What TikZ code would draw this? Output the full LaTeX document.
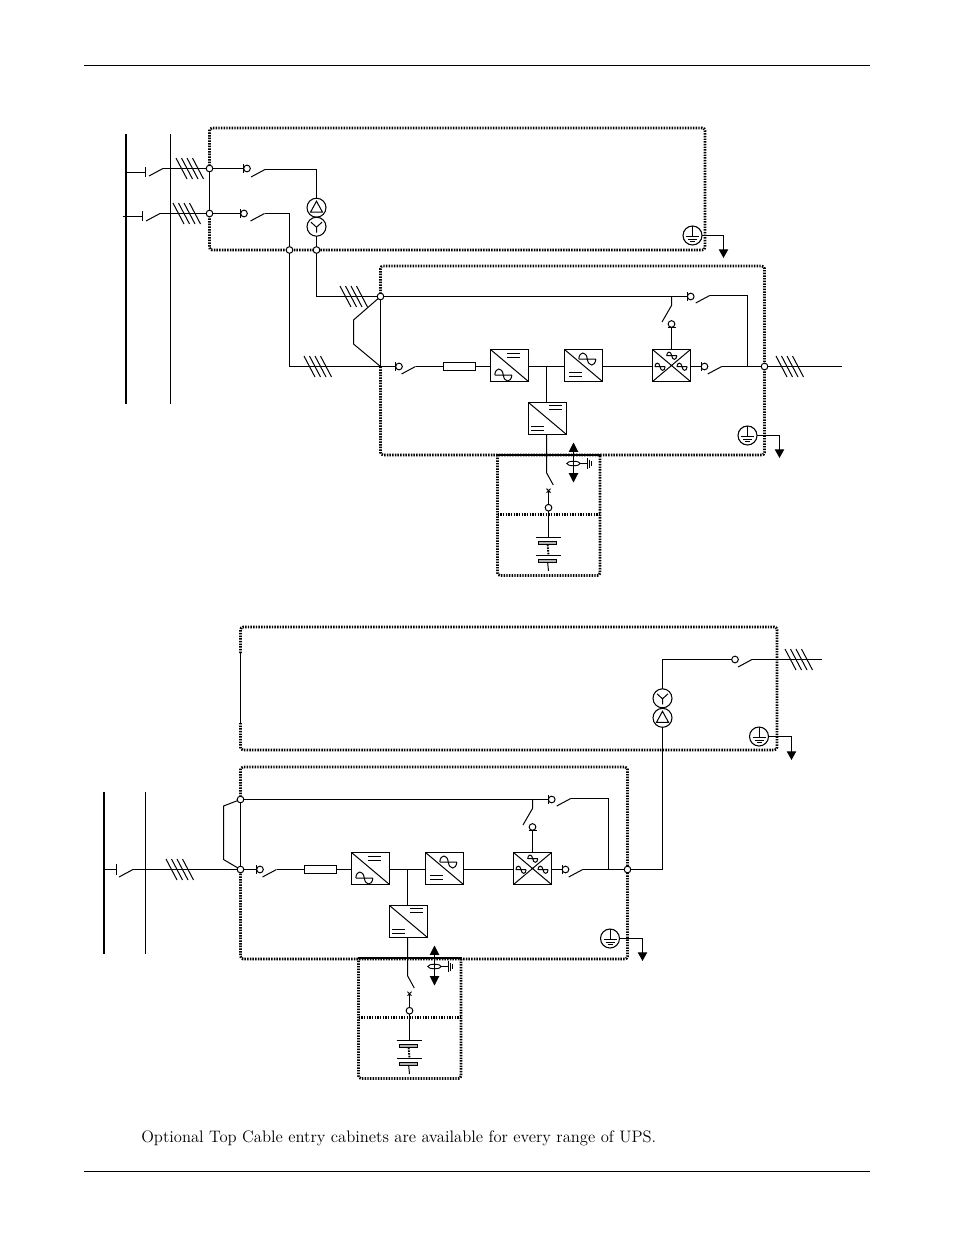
\documentclass[tikz,border=0pt]{standalone}
\usetikzlibrary{arrows.meta,shapes.geometric}
\tikzset{
  wire/.style={line width=0.75pt,line cap=butt},
  thinw/.style={line width=0.7pt},
  dotbox/.style={line width=2pt,dash pattern=on 1.1pt off 0.9pt,rounded corners=2pt},
  dashbox/.style={line width=1.6pt,dash pattern=on 1.1pt off 0.9pt},
  junc/.style={circle,draw,fill=white,line width=0.75pt,minimum size=5pt,inner sep=0pt,outer sep=0pt},
  conv/.style={rectangle,draw,line width=0.9pt,minimum width=28.5pt,minimum height=24pt,inner sep=0pt,outer sep=0pt},
  fuse/.style={rectangle,draw,line width=0.75pt,minimum width=24pt,minimum height=6pt,inner sep=0pt,outer sep=0pt},
  ring/.style={circle,draw,line width=0.8pt,minimum size=14.25pt,inner sep=0pt,outer sep=0pt},
  plate/.style={rectangle,draw,fill=gray!60,line width=0.6pt,minimum width=14pt,minimum height=2.6pt,inner sep=0pt,outer sep=0pt},
  earthtip/.style={wire,-{Triangle[width=7pt,length=6.5pt]}},
  ctip/.style={wire,{Triangle[width=7pt,length=7pt]}-{Triangle[width=7pt,length=7pt]}},
  ctring/.style={ellipse,draw,line width=0.7pt,minimum width=10pt,minimum height=3.4pt,inner sep=0pt,outer sep=0pt}
}
\newcommand\hatchmark[2]{\foreach \i in {0,1,2,3} \draw[wire] ({#1+\i*5.5},{#2-10.5}) -- ++(11,21);}
\newcommand\termin[3]{\node[junc] (#1) at (#2,#3) {}; \draw[wire] ({#2-3.5},{#3-4.5}) -- ++(0,9);}
\newcommand\bladesw[3]{\coordinate (#1-a) at (#2,{#3+7.5}); \coordinate (#1-b) at ({#2+14},#3); \draw[wire] (#1-a) -- (#1-b);}
\newcommand\dcsym[2]{\draw[wire] ({#1-6.5},{#2-2}) -- ++(13,0) ({#1-6.5},{#2+2}) -- ++(13,0);}
\newcommand\acsym[3]{\begin{scope}[shift={(#1,#2)},scale=#3]
  \draw[wire] (-8.5,0) -- (8.5,0) (-8.5,0) .. controls (-8,-8) and (-1,-8) .. (0,0) .. controls (1,8) and (8,8) .. (8.5,0);
\end{scope}}
\newcommand\earthsym[3]{\node[ring] (#1) at (#2,#3) {};
  \draw[wire] (#2,{#3-9.5}) -- (#2,{#3+1}) ({#2-6.5},{#3+1}) -- ++(13,0) ({#2-4.5},{#3+3.5}) -- ++(9,0) ({#2-2.5},{#3+6}) -- ++(5,0);}
\newcommand\deltasym[3]{\node[ring] (#1) at (#2,#3) {};
  \draw[wire] (#2,{#3-6.5}) -- ({#2+6},{#3+4.5}) -- ({#2-6},{#3+4.5}) -- cycle;}
\newcommand\wyesym[3]{\node[ring] (#1) at (#2,#3) {};
  \draw[wire] (#2,{#3+6}) -- (#2,{#3+0.5}) -- ({#2-5.5},{#3-4.5}) (#2,{#3+0.5}) -- ({#2+5.5},{#3-4.5});}
\newcommand\upscore{%
  % battery cabinet
  \draw[dotbox] (497.5,455) -- (497.5,575.5) -- (600,575.5) -- (600,455);
  \draw[dashbox] (497.5,514.5) -- (600,514.5);
  \draw[line width=2.2pt] (497,455) -- (600.5,455);
  % power path
  \termin{t1}{399}{366.5}
  \bladesw{s1}{401.5}{366.5}
  \node[fuse] (fs) at (459.5,366.5) {};
  \node[conv] (rect) at (509.5,365.5) {};
  \node[conv] (inv) at (583.5,365.5) {};
  \node[conv] (stat) at (671.5,365.5) {};
  \node[conv] (chg) at (547.5,418.5) {};
  \coordinate (bus) at (546.5,366.5);
  \draw[wire] (s1-b) -- (fs);
  \draw[wire] (fs.east) -- (fs.east -| rect.west);
  \draw[wire] (rect.east |- bus) -- (inv.west |- bus);
  \draw[wire] (inv.east |- bus) -- (stat.west |- bus);
  \draw[wire] (bus) -- (bus |- chg.north);
  % converter glyphs
  \draw[wire] (rect.north west) -- (rect.south east);
  \dcsym{513.7}{355.5}
  \acsym{503.3}{375}{1}
  \draw[wire] (inv.north west) -- (inv.south east);
  \acsym{587.3}{359}{1}
  \dcsym{575.7}{374.7}
  \draw[wire] (chg.north west) -- (chg.south east);
  \dcsym{555.7}{407.5}
  \dcsym{537.7}{428}
  \draw[wire] (stat.north west) -- (stat.south east) (stat.north east) -- (stat.south west);
  \acsym{671.7}{355.7}{0.6}
  \acsym{660}{366.7}{0.6}
  \acsym{682}{366.7}{0.6}
  % output switch
  \termin{t2}{704.5}{366.5}
  \bladesw{s2}{707.7}{366.5}
  \draw[wire] (stat.east |- bus) -- (t2);
  % static bypass
  \node[junc] (t3) at (671.5,324) {};
  \draw[wire] (667.5,327.5) -- (675.5,327.5);
  \draw[wire] (stat.north) -- (t3);
  \coordinate (s4t) at (671.5,296.5);
  \coordinate (s4k) at (671.5,305.5);
  \coordinate (s4e) at (662,322);
  \draw[wire] (s4t) -- (s4k) -- (s4e);
  % bypass
  \termin{t4}{690.7}{296.5}
  \bladesw{s3}{695.7}{295.5}
  \coordinate (c1) at (747.5,295.5);
  \coordinate (c2) at (747.5,366.5);
  \draw[wire] (s3-b) -- (c1) -- (c2);
  % dc link
  \coordinate (s5t) at (546.5,472.7);
  \coordinate (s5e) at (553.3,485);
  \draw[wire] (bus |- chg.south) -- (s5t) -- (s5e);
  \coordinate (xm) at (548.5,490.7);
  \draw[wire] (546.5,488.7) -- (550.5,492.7) (550.5,488.7) -- (546.5,492.7);
  \node[junc] (t5) at (548.5,507.7) {};
  \draw[wire] (xm) -- (t5);
  % battery
  \coordinate (p1) at (548.5,537);
  \coordinate (p2) at (548.5,555.5);
  \coordinate (p4) at (548.5,571);
  \draw[wire] (t5) -- (p1);
  \draw[thinw] (535.5,537.5) -- (560.5,537.5) (535.5,555.5) -- (560.5,555.5);
  \node[plate] (b1) at (547.5,543) {};
  \node[plate] (b2) at (547.5,561) {};
  \draw[line width=1.4pt,dash pattern=on 1.2pt off 0.8pt] (b1) -- (p2);
  \draw[wire] (b2) -- (p4);
  % current sensor
  \coordinate (ca) at (573.5,442.5);
  \coordinate (cb) at (573.5,482.5);
  \draw[ctip] (ca) -- (cb);
  \node[ctring] (ct) at (573.5,463.5) {};
  \coordinate (ce) at (587,463.5);
  \draw[wire] (ct) -- (ce);
  \draw[wire] (587.5,458) -- (587.5,469) (589.5,459.5) -- (589.5,467.5) (591.5,461) -- (591.5,466);
}
\begin{document}
\begin{tikzpicture}[x=0.75pt,y=-0.75pt]
\useasboundingbox (0,0) rectangle (954,1235);
% header and footer rules
\draw[thinw] (84,65.5) -- (870,65.5);
\draw[thinw] (84,1171.5) -- (870,1171.5);
%
% ---------- upper diagram ----------
\draw[line width=1.6pt] (126,134) -- (126,404);
\draw[thinw] (170.5,134) -- (170.5,404);
\draw[dotbox] (209.5,168.5) -- (209.5,128) -- (705,128) -- (705,250) -- (209.5,250) -- (209.5,213.5);
\draw[dotbox] (380.5,296.5) -- (380.5,266) -- (764.5,266) -- (764.5,455) -- (380.5,455) -- (380.5,366.5);
\begin{scope}[name prefix=u-]
  \upscore
\end{scope}
\node[junc] (j1) at (209.5,168.5) {};
\node[junc] (j2) at (209.5,213.5) {};
\node[junc] (j3) at (316.5,250) {};
\node[junc] (j4) at (289.5,250) {};
\node[junc] (j5) at (380.5,296.5) {};
\coordinate (j6) at (380.5,366.5);
\node[junc] (j7) at (764.5,366.5) {};
\draw[wire] (j1) -- (j2);
% feeders
\coordinate (f1s) at (126,172.5);
\coordinate (f1t) at (145.5,172.5);
\draw[wire] (f1s) -- (f1t);
\draw[wire] (145.5,167) -- (145.5,177);
\bladesw{f1}{149}{168.5}
\draw[wire] (f1-b) -- (j1);
\hatchmark{176}{168.5}
\coordinate (f2s) at (123,216.5);
\coordinate (f2t) at (142.5,216.5);
\draw[wire] (f2s) -- (f2t);
\draw[wire] (142.5,211) -- (142.5,221);
\bladesw{f2}{146}{213.5}
\draw[wire] (f2-b) -- (j2);
\hatchmark{173}{213.5}
% input switches
\termin{a1}{247}{168.5}
\termin{a2}{244}{213.5}
\draw[wire] (j1) -- (a1);
\draw[wire] (j2) -- (a2);
\bladesw{a3}{251}{169.5}
\bladesw{a4}{250.5}{213.5}
\deltasym{tr1}{316.5}{207.7}
\wyesym{tr2}{316.5}{226.7}
\coordinate (k1) at (316.5,169.5);
\draw[wire] (a3-b) -- (k1) -- (tr1);
\draw[wire] (tr2) -- (j3);
\coordinate (k2) at (316.5,296.5);
\draw[wire] (j3) -- (k2) -- (j5);
\hatchmark{340}{296.5}
\coordinate (k3) at (289.5,213.5);
\draw[wire] (a4-b) -- (k3) -- (j4);
\coordinate (k4) at (289.5,366.5);
\draw[wire] (j4) -- (k4) -- (j6);
\hatchmark{304}{366.5}
% bypass bracket
\coordinate (k5) at (353.5,320);
\coordinate (k6) at (353.5,344);
\draw[wire] (j5) -- (k5) -- (k6) -- (j6);
\draw[wire] (j5) -- (j6);
\draw[wire] (j6) -- (u-t1);
\draw[wire] (j5) -- (u-t4);
\draw[wire] (u-s2-b) -- (j7);
\coordinate (o1) at (842,366.5);
\draw[wire] (j7) -- (o1);
\hatchmark{776}{366.5}
% earths
\earthsym{g1}{692.5}{235.5}
\coordinate (g1a) at (723.5,235.5);
\coordinate (g1b) at (723.5,258);
\draw[earthtip] (g1) -- (g1a) -- (g1b);
\earthsym{g2}{747.5}{435.5}
\coordinate (g2a) at (779.5,435.5);
\coordinate (g2b) at (779.5,458);
\draw[earthtip] (g2) -- (g2a) -- (g2b);
%
% ---------- lower diagram ----------
\draw[line width=1.6pt] (104,792) -- (104,954);
\draw[thinw] (145.5,792) -- (145.5,954);
\draw[dotbox] (240.5,653) -- (240.5,627) -- (777,627) -- (777,750) -- (240.5,750) -- (240.5,723);
\draw[wire] (240.5,653) -- (240.5,723);
\draw[dotbox] (240.5,799.5) -- (240.5,767) -- (627.5,767) -- (627.5,959) -- (240.5,959) -- (240.5,869.5);
\begin{scope}[shift={(-139,503)},name prefix=v-]
  \upscore
\end{scope}
\node[junc] (n1) at (240.5,799.5) {};
\node[junc] (n2) at (240.5,869.5) {};
\node[junc] (n3) at (627.5,869.5) {};
\draw[wire] (n1) -- (n2);
\coordinate (k7) at (223.5,806);
\coordinate (k8) at (223.5,859.5);
\draw[wire] (n1) -- (k7) -- (k8) -- (n2);
\draw[wire] (n1) -- (v-t4);
\draw[wire] (n2) -- (v-t1);
\draw[wire] (v-s2-b) -- (n3);
% feeder
\coordinate (f3s) at (104.3,869.5);
\coordinate (f3t) at (116.5,869.5);
\draw[wire] (f3s) -- (f3t);
\draw[wire] (116.5,864) -- (116.5,875);
\bladesw{f3}{119}{869.5}
\draw[wire] (f3-b) -- (n2);
\hatchmark{166}{869.5}
% upper box of lower diagram
\wyesym{tr3}{662.5}{698.3}
\deltasym{tr4}{662.5}{717.8}
\coordinate (k9) at (662.5,869.5);
\draw[wire] (n3) -- (k9) -- (tr4);
\coordinate (k10) at (662.5,659.5);
\node[junc] (a5) at (735,659.5) {};
\draw[wire] (tr3) -- (k10) -- (a5);
\bladesw{a6}{738}{659.5}
\coordinate (o2) at (822,659.5);
\draw[wire] (a6-b) -- (o2);
\hatchmark{785}{659.5}
\earthsym{g3}{759}{736.5}
\coordinate (g3a) at (791.5,736.5);
\coordinate (g3b) at (791.5,760);
\draw[earthtip] (g3) -- (g3a) -- (g3b);
\earthsym{g4}{610}{938.5}
\coordinate (g4a) at (642.5,938.5);
\coordinate (g4b) at (642.5,961);
\draw[earthtip] (g4) -- (g4a) -- (g4b);
%
\node[anchor=base west,inner sep=0pt,font=\fontsize{12.48}{14}\selectfont] (note) at (141,1142) {Optional Top Cable entry cabinets are available for every range of UPS.};
\end{tikzpicture}
\end{document}
